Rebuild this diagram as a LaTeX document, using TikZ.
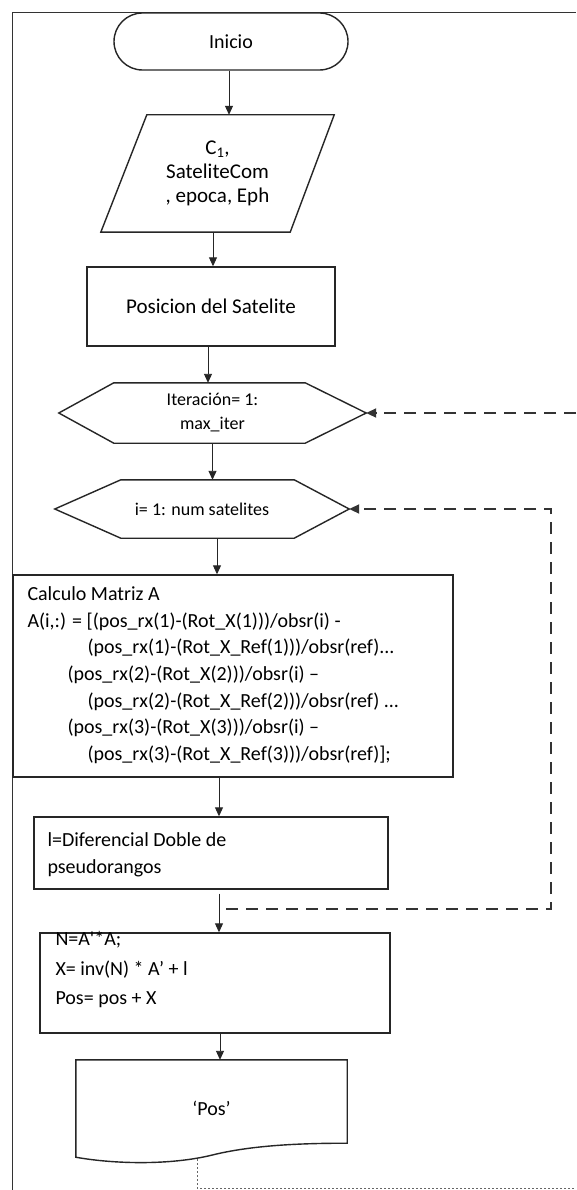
\documentclass[tikz,border=0pt]{standalone}
\usepackage{fontspec}
\setmainfont{Carlito}
\usetikzlibrary{arrows.meta,calc}
\newcommand\fsz[2]{\fontsize{#1}{#2}\selectfont}
\begin{document}
\begin{tikzpicture}[x=1pt,y=-1pt,
  shp/.style={draw=black!85, line width=1.4pt, line join=miter},
  box/.style={shp, rectangle, inner sep=0pt},
  ghost/.style={rectangle, inner sep=0pt},
  txt/.style={inner sep=0pt, align=left, text=black},
  arr/.style={-{Triangle[length=9pt,width=8pt]}, line width=0.9pt, draw=black!85},
  darr/.style={-{Triangle[length=10pt,width=9pt]}, line width=2pt, dash pattern=on 12pt off 8pt, draw=black!80},
  dotl/.style={line width=1pt, dash pattern=on 2pt off 2pt, draw=black!60},
  frame/.style={line width=0.8pt, draw=black!80}]
\useasboundingbox (0,0) rectangle (576,1190);
\fill[white] (0,0) rectangle (576,1190);

% page frame
\draw[frame] (12.5,1190) -- (12.5,12.5) -- (576,12.5);

% start terminal
\node[box, rounded corners=28.5pt, minimum width=234pt, minimum height=57pt,
      font=\fsz{20}{24}, text=black] (ini) at (231,41.5) {Inicio};

% input data
\node[ghost, minimum width=233pt, minimum height=117pt, align=center,
      font=\fsz{21}{24}, text=black] (par) at (217.5,173.5)
      {C\textsubscript{1},\\SateliteCom\\, epoca, Eph};
\draw[shp] ([xshift=46pt]par.north west) -- (par.north east)
  -- ([xshift=-44pt]par.south east) -- (par.south west) -- cycle;

% satellite position
\node[box, minimum width=248pt, minimum height=79pt, font=\fsz{21}{24},
      text=black] (pos) at (211,306.5) {Posicion del Satelite};

% outer loop
\node[ghost, minimum width=307pt, minimum height=60pt, align=center,
      font=\fsz{18}{24}, text=black] (h1) at (212.5,413)
      {Iteración= 1:\\max\_iter};
\draw[shp] (h1.west) -- ([xshift=55pt]h1.north west) -- ([xshift=-61pt]h1.north east)
  -- (h1.east) -- ([xshift=-61pt]h1.south east) -- ([xshift=55pt]h1.south west) -- cycle;

% inner loop
\node[ghost, minimum width=294pt, minimum height=58pt,
      font=\fsz{18}{24}, text=black] (h2) at (202,509) {i= 1: num satelites};
\draw[shp] (h2.west) -- ([xshift=66pt]h2.north west) -- ([xshift=-55pt]h2.north east)
  -- (h2.east) -- ([xshift=-55pt]h2.south east) -- ([xshift=66pt]h2.south west) -- cycle;

% design matrix
\node[box, minimum width=440pt, minimum height=202pt] (A) at (233,676) {};
\node[txt, anchor=north west, font=\fsz{20}{26.67}] (Atx)
  at ([xshift=15pt,yshift=-12pt]A.north west)
  {Calculo Matriz A\\
   A(i,:) = [(pos\_rx(1)-(Rot\_X(1)))/obsr(i) -\\
   \hspace*{60pt}(pos\_rx(1)-(Rot\_X\_Ref(1)))/obsr(ref)...\\
   \hspace*{40pt}(pos\_rx(2)-(Rot\_X(2)))/obsr(i) –\\
   \hspace*{60pt}(pos\_rx(2)-(Rot\_X\_Ref(2)))/obsr(ref) ...\\
   \hspace*{40pt}(pos\_rx(3)-(Rot\_X(3)))/obsr(i) –\\
   \hspace*{60pt}(pos\_rx(3)-(Rot\_X\_Ref(3)))/obsr(ref)];};

% double differences
\node[box, minimum width=354pt, minimum height=72pt] (l) at (211,853) {};
\node[txt, anchor=north west, font=\fsz{20}{27}] (ltx)
  at ([xshift=14pt,yshift=-16pt]l.north west)
  {l=Diferencial Doble de\\pseudorangos};

% least squares update
\node[box, minimum width=350pt, minimum height=100pt] (N) at (215,983) {};
\node[txt, anchor=north west, font=\fsz{20}{29.5}] (Ntx)
  at ([xshift=16pt,yshift=1pt]N.north west)
  {N=A\textquotesingle*A;\\X= inv(N) * A' + l\\Pos= pos + X};

% output document
\node[ghost, minimum width=271pt, minimum height=97pt, font=\fsz{20}{24},
      text=black] (doc) at (211.5,1108.5) {`Pos'};
\draw[shp] ([yshift=14pt]doc.south east)
  .. controls +(-47,0) and +(40,-10) .. ([yshift=2pt]doc.south)
  .. controls +(-41,10) and +(39,7) .. (doc.south west)
  -- (doc.north west) -- (doc.north east) -- cycle;

% free ends of the loop connectors
\coordinate (j1) at (226,909);
\coordinate (j2) at (576,413);
\coordinate (j3) at (576,1188);

% flow
\draw[arr] ([xshift=-2pt]ini.south) -- ([xshift=-2pt]ini.south |- par.north);
\draw[arr] ([xshift=-4.5pt]par.south) -- ([xshift=-4.5pt]par.south |- pos.north);
\draw[arr] ([xshift=-3pt]pos.south) -- ([xshift=-3pt]pos.south |- h1.north);
\draw[arr] (h1.south) -- (h1.south |- h2.north);
\draw[arr] ([xshift=15pt]h2.south) -- ([xshift=15pt]h2.south |- A.north);
\draw[arr] ([xshift=-14pt]A.south) -- ([xshift=-14pt]A.south |- l.north);
\draw[arr] ([xshift=8pt,yshift=-4pt]l.south) -- ([xshift=8pt]l.south |- N.north);
\draw[arr] ([xshift=5pt]N.south) -- ([xshift=5pt]N.south |- doc.north);

% loop returns
\draw[darr] (j1) -| ([xshift=202pt]h2.east) -- (h2.east);
\draw[darr] (j2) -- (h1.east);
\draw[dotl] ([xshift=-14.5pt,yshift=-2pt]doc.south) |- (j3);
\end{tikzpicture}
\end{document}
